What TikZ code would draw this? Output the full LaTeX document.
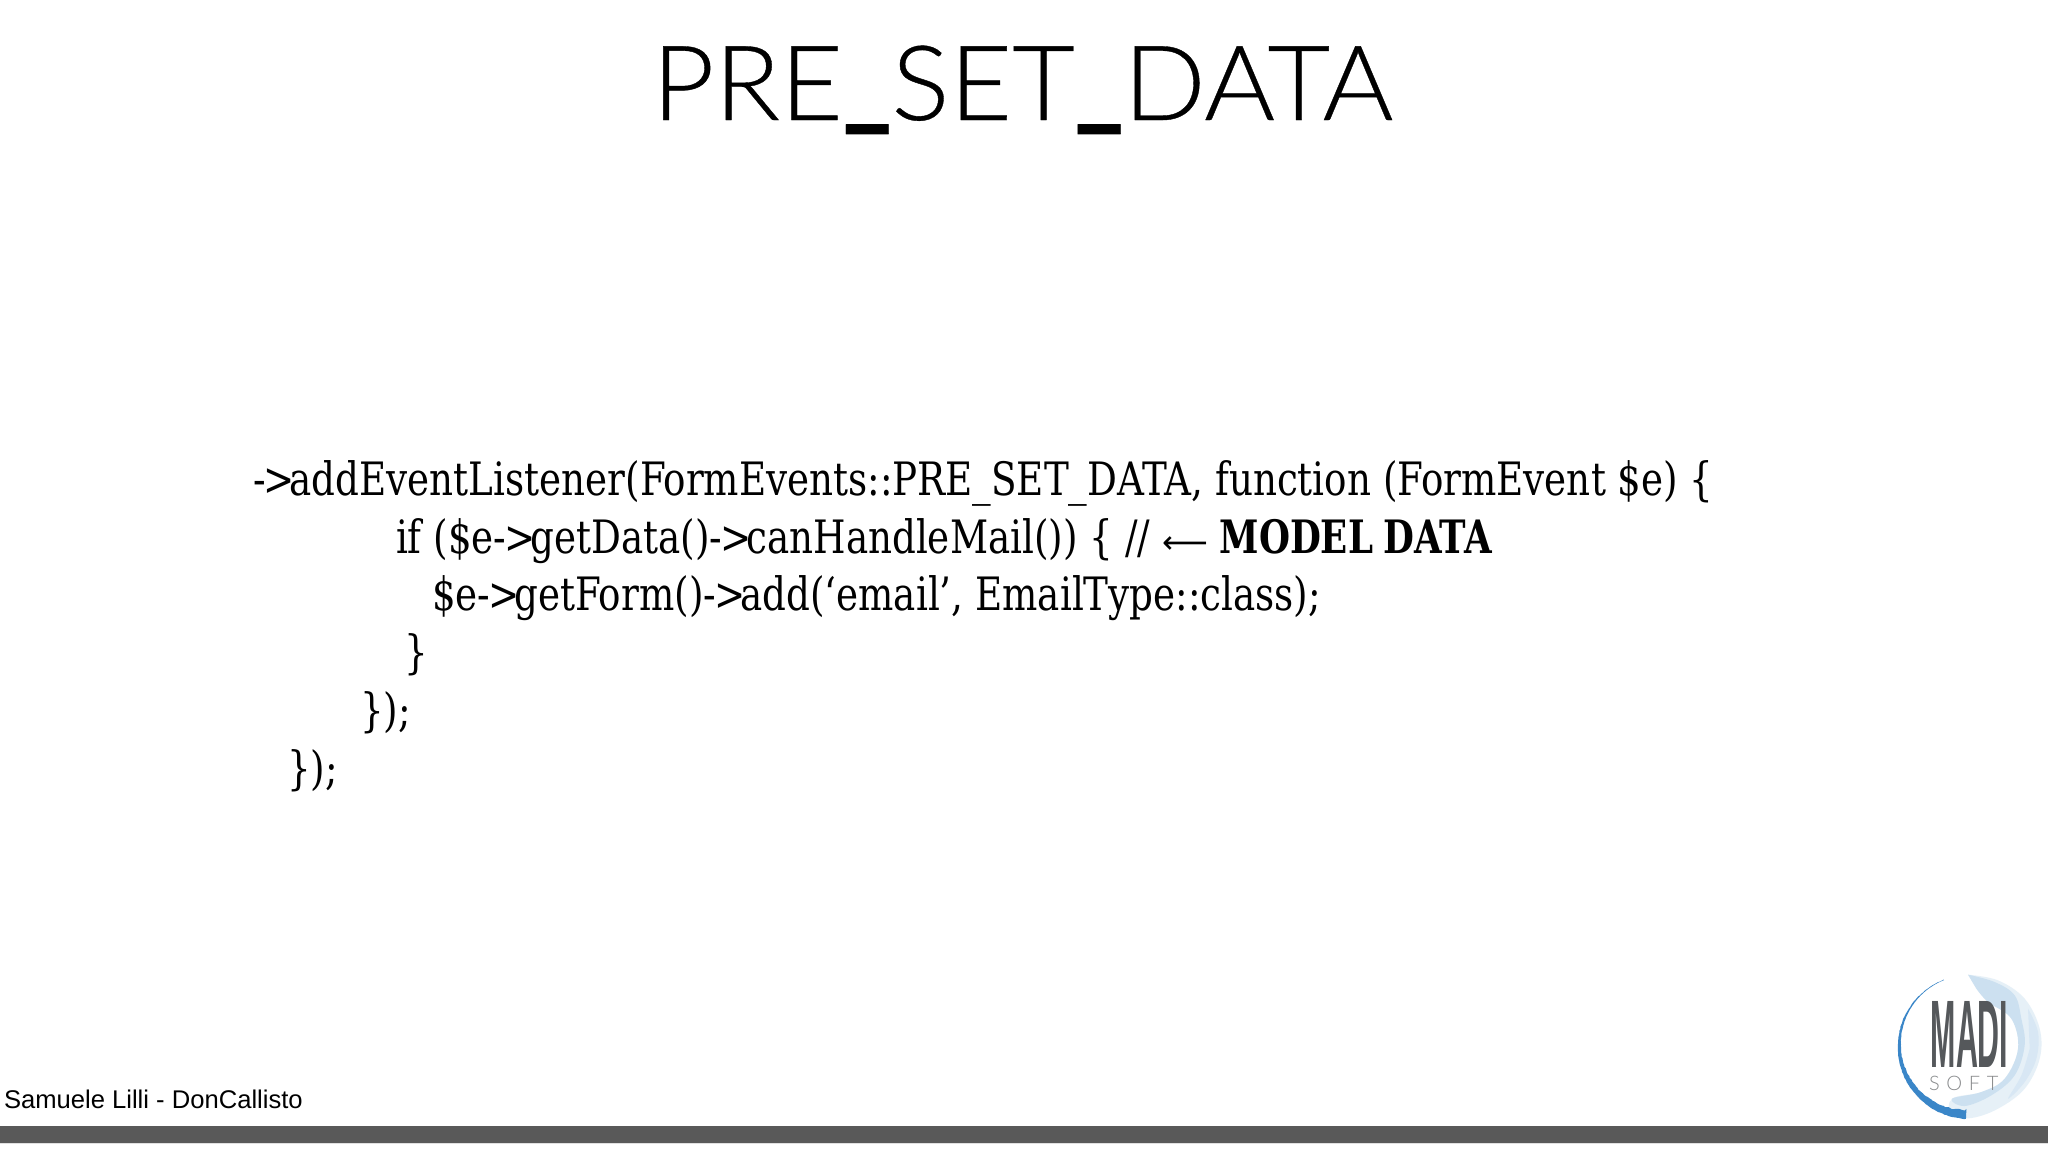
\documentclass[tikz,border=0pt]{standalone}
\usepackage{fontspec}
\setmainfont{Liberation Sans}
\newfontfamily\titlefont[FakeStretch=1.04,FakeBold=0.35]{Lato Light}
\newfontfamily\softfont{Lato Light}
\newfontfamily\codefont[FakeStretch=0.90]{DejaVu Serif Condensed}
\newfontfamily\modelfont[FakeStretch=0.86]{DejaVu Serif Condensed}
\newfontfamily\arrowfont{DejaVu Sans}
\newfontfamily\logofont{Liberation Sans}
\newcommand{\thickus}{\raisebox{11.5pt}{\scalebox{1}[2.6]{\_}}}
\newcommand{\darr}{-\kern-1pt>\kern-2.5pt}
\definecolor{barc}{HTML}{595959}
\definecolor{arcblue}{HTML}{3A86C8}
\definecolor{wash}{HTML}{BBD6EC}
\definecolor{logogrey}{HTML}{55585B}
\tikzset{
  txt/.style={anchor=base west,inner sep=0pt,outer sep=0pt,text=black},
  codeline/.style={txt,font=\codefont\fontsize{23}{26}\selectfont},
}
\begin{document}
\begin{tikzpicture}[x=0.5pt,y=-0.5pt]
\pgfmathsetseed{7}
\useasboundingbox (0,0) rectangle (2048,1152);
\fill[white] (0,0) rectangle (2048,1152);
\node[txt,font=\titlefont\fontsize{52}{60}\selectfont] (title) at (652,120) {PRE\thickus SET\thickus DATA};
\node[codeline] (l1) at (253,495.5) {\darr addEventListener(FormEvents::PRE\_SET\_DATA, function (FormEvent \$e) \{};
\node[codeline] (l2) at (396,553.5) {if (\$e\darr getData()\darr canHandleMail()) \{ // {\arrowfont\fontsize{16}{16}\selectfont ⟵} {\modelfont\bfseries MODEL\hspace{-1pt} DATA}};
\node[codeline] (l3) at (432,610.5) {\$e\darr getForm()\darr add(‘email’, EmailType::class);};
\node[codeline] (l4) at (404,668.5) {\}};
\node[codeline] (l5) at (360,726.5) {\});};
\node[codeline] (l6) at (287,784.5) {\});};
\node[txt,font=\fontsize{12.8}{16}\selectfont] (author) at (4,1108) {Samuele Lilli - DonCallisto};
\fill[barc] (0,1126) rectangle (2048,1143);
\fill[black!12] (0,1143) rectangle (2048,1144);
% logo, in coordinates of a 3x crop
\begin{scope}[shift={(1848,952)},x=0.16667pt,y=-0.16667pt]
  \fill[wash!45,opacity=.8] plot[smooth,tension=.6] coordinates {(360,68) (450,85) (530,140) (575,230) (575,320) (530,410) (450,470) (370,498) (310,490) (312,440) (400,420) (470,380) (510,290) (490,200) (420,150) (385,110)} -- cycle;
  \fill[wash,opacity=.6] plot[smooth,tension=.6] coordinates {(360,68) (440,90) (500,130) (520,200) (530,280) (500,370) (430,430) (350,462) (312,440) (400,420) (470,380) (510,290) (490,200) (420,150) (385,110)} -- cycle;
  \fill[wash!70,opacity=.6] plot[smooth,tension=.6] coordinates {(540,170) (570,240) (565,320) (530,390) (480,440) (520,370) (545,290)} -- cycle;
  \fill[arcblue] plot[domain=93:249,samples=90] ({365+(215+2*rnd)*cos(\x)},{285+(215+2*rnd)*sin(\x)}) -- plot[domain=249:93,samples=90] ({365+(215-(24+5*rnd)*((249-\x)/156)^1.4)*cos(\x)},{285+(215-(24+5*rnd)*((249-\x)/156)^1.4)*sin(\x)}) -- cycle;
  \node[inner sep=0pt,outer sep=0pt,text=logogrey,font=\logofont\bfseries\fontsize{20}{20}\selectfont,anchor=base west,xscale=.76,yscale=2.4,transform shape] (madi) at (248,345) {MADI};
  \node[inner sep=0pt,outer sep=0pt,text=logogrey!70,font=\softfont\fontsize{10}{10}\selectfont,anchor=base west,transform shape] (soft) at (243,414) {S\,\,O\,\,F\,\,T};
\end{scope}
\end{tikzpicture}
\end{document}
